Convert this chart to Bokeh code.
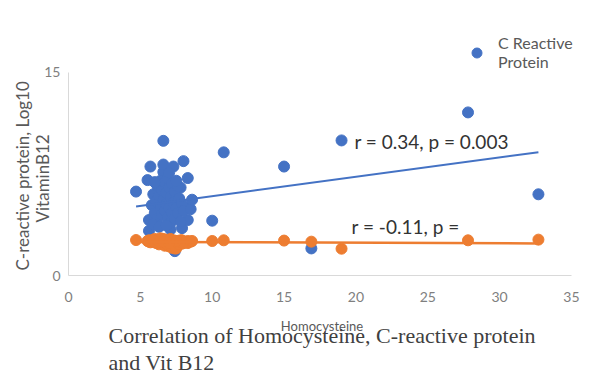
from bokeh.plotting import figure
from bokeh.models import Range1d, FixedTicker, Label, Legend, LegendItem, Title, ColumnDataSource
from bokeh.embed import file_html
from bokeh.resources import INLINE

# ---- data ----
homocysteine = [4.7, 5.5, 5.7, 6.6, 7.3, 8.0, 8.3, 6.6, 5.6, 5.6, 7.1, 7.9, 8.3, 8.3, 7.8, 7.4,
                10.0, 10.8, 15.0, 16.9, 19.0, 27.8, 32.7,
                5.8, 5.9, 6.0, 6.1, 6.2, 6.2, 6.3, 6.4, 6.4, 6.5, 6.5, 6.6, 6.7, 6.7, 6.8, 6.8,
                6.9, 6.9, 7.0, 7.0, 7.1, 7.1, 7.2, 7.2, 7.3, 7.4, 7.4, 7.5, 7.6, 7.6, 7.7, 7.8,
                7.9, 8.0, 6.0, 5.9, 6.3, 6.8, 7.5, 6.6, 7.0, 8.5, 8.6]
crp = [6.2, 7.05, 8.05, 9.95, 8.05, 8.45, 7.2, 7.65, 4.1, 3.3, 3.4, 3.5, 4.1, 5.0, 6.5, 1.8,
       4.05, 9.1, 8.05, 2.0, 9.98, 12.05, 6.0,
       5.2, 6.0, 4.6, 5.5, 6.6, 4.2, 5.9, 7.0, 5.0, 6.3, 4.5, 5.6, 6.9, 4.8, 6.1, 5.3,
       7.2, 4.3, 6.5, 5.0, 5.8, 3.9, 6.8, 4.6, 5.4, 6.2, 4.2, 5.0, 6.6, 4.6, 5.7, 4.0,
       5.3, 4.8, 6.9, 3.8, 3.6, 3.7, 7.0, 8.2, 7.6, 4.9, 5.6]
vit_b12_log10 = [2.62, 2.55, 2.45, 2.6, 2.3, 2.5, 2.4, 2.7, 2.5, 2.6, 2.2, 2.35, 2.55, 2.45, 2.6, 2.0,
                 2.55, 2.6, 2.58, 2.5, 1.98, 2.6, 2.65,
                 2.6, 2.5, 2.7, 2.4, 2.55, 2.65, 2.3, 2.5, 2.75, 2.45, 2.6, 2.35, 2.55, 2.2, 2.65, 2.4,
                 2.5, 2.3, 2.6, 2.15, 2.45, 2.7, 2.05, 2.4, 2.6, 2.25, 2.5, 2.0, 2.35, 2.55, 2.3, 2.45,
                 2.6, 2.4, 2.5, 2.6, 2.45, 2.35, 2.55, 2.5, 2.4, 2.5, 2.55]

# linear trend lines (slope, intercept) as drawn in the picture
crp_trend = (0.143, 4.43)
b12_trend = (-0.004, 2.50)

x_ticks = [0, 5, 10, 15, 20, 25, 30, 35]
y_ticks = [0, 15]

crp_note = "r = 0.34, p = 0.003"
b12_note = "r = -0.11, p ="

BLUE = "#4472C4"
ORANGE = "#ED7D31"
FONT = "Lato"

src = ColumnDataSource(dict(x=homocysteine, crp=crp, b12=vit_b12_log10))
x0, x1 = min(homocysteine), max(homocysteine)
trend = ColumnDataSource(dict(
    x=[x0, x1],
    crp=[crp_trend[1] + crp_trend[0] * x0, crp_trend[1] + crp_trend[0] * x1],
    b12=[b12_trend[1] + b12_trend[0] * x0, b12_trend[1] + b12_trend[0] * x1],
))

# the frame extends a little beyond the 0-35 / 0-15 axes so that the legend,
# which sits outside the axis box, is not clipped; the axes are bounded
p = figure(width=585, height=376, x_range=Range1d(0, 35.28), y_range=Range1d(0, 19.58),
           output_backend="svg", toolbar_location=None,
           min_border_left=68, min_border_top=10, min_border_right=10, min_border_bottom=101)
p.outline_line_color = None
p.grid.visible = False
p.background_fill_color = "white"

r_blue = p.scatter("x", "crp", source=src, size=11, color=BLUE, line_color=BLUE)
r_orange = p.scatter("x", "b12", source=src, size=11, color=ORANGE, line_color=ORANGE)
p.line("x", "crp", source=trend, line_color=BLUE, line_width=2)
p.line("x", "b12", source=trend, line_color=ORANGE, line_width=2.5)

p.xaxis.ticker = FixedTicker(ticks=x_ticks)
p.yaxis.ticker = FixedTicker(ticks=y_ticks)
p.xaxis.bounds = (0, 35)
p.yaxis.bounds = (0, 15)
for ax in (p.xaxis, p.yaxis):
    ax.axis_line_color = "#d9d9d9"
    ax.axis_line_width = 1
    ax.major_tick_line_color = None
    ax.minor_tick_line_color = None
    ax.major_tick_out = 0
    ax.major_tick_in = 0
    ax.minor_tick_out = 0
    ax.major_label_text_color = "#7f7f7f"
    ax.major_label_text_font = FONT
    ax.major_label_text_font_size = "14px"
    ax.axis_label_text_font = FONT
    ax.axis_label_text_font_style = "normal"
    ax.axis_label_text_color = "#595959"
p.xaxis.major_label_standoff = 16
p.yaxis.major_label_standoff = 8
p.xaxis.axis_label = "Homocysteine"
p.xaxis.axis_label_text_font_size = "13px"
p.xaxis.axis_label_standoff = 13

# y-axis title: two lines, centred on the 0-15 part of the axis
p.add_layout(Title(text="VitaminB12", align="left", offset=53, vertical_align="bottom",
                   text_font=FONT, text_font_size="17px", text_font_style="normal",
                   text_color="#595959", standoff=-22), "left")
p.add_layout(Title(text="C-reactive protein, Log10", align="left", offset=5,
                   vertical_align="bottom",
                   text_font=FONT, text_font_size="17px", text_font_style="normal",
                   text_color="#595959", standoff=16), "left")

p.add_layout(Title(text="Correlation of Homocysteine, C-reactive protein\nand Vit B12",
                   align="center", text_font="Liberation Serif", text_font_size="22px",
                   text_font_style="normal", text_color="#404040", text_line_height=1.1,
                   standoff=-33), "below")

p.add_layout(Label(x=19.9, y=9.92, text=crp_note, text_baseline="middle",
                   text_font=FONT, text_font_size="19px", text_color="#333333"))
p.add_layout(Label(x=19.7, y=3.64, text=b12_note, text_baseline="middle",
                   text_font=FONT, text_font_size="19px", text_color="#333333"))

legend = Legend(items=[LegendItem(label="C Reactive\nProtein", renderers=[r_blue])],
                location=(396, 204), border_line_color=None, background_fill_alpha=0,
                padding=0, margin=0, glyph_width=25, glyph_height=25, label_standoff=9,
                label_text_font=FONT, label_text_font_size="16px", label_text_color="#595959",
                label_text_line_height=1.45)
p.add_layout(legend, "center")

open("out.html", "w").write(file_html(p, INLINE))
